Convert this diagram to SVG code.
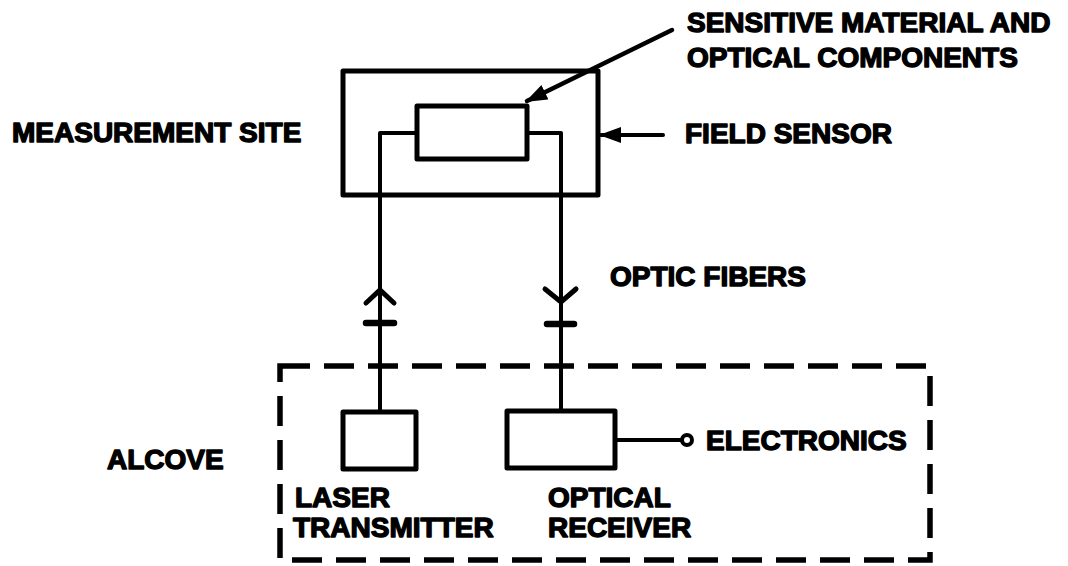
<svg xmlns="http://www.w3.org/2000/svg" width="1068" height="566" viewBox="0 0 1068 566">
<style>
.t{font-family:"Liberation Sans",Arial,sans-serif;font-weight:bold;font-size:28px;fill:#000;stroke:#000;stroke-width:1.4px;stroke-linejoin:round}
.box{fill:none;stroke:#000;stroke-width:5;stroke-linejoin:round}
.ln{fill:none;stroke:#000;stroke-width:4;stroke-linecap:round;stroke-linejoin:round}
.chev{fill:none;stroke:#000;stroke-width:5;stroke-linecap:round;stroke-linejoin:miter}
.tick{fill:none;stroke:#000;stroke-width:6.5;stroke-linecap:round}
.dash{fill:none;stroke:#000;stroke-width:5.5;stroke-dasharray:30 14;stroke-linecap:butt}
</style>
<defs>
<marker id="ah2" markerWidth="22" markerHeight="16" refX="20" refY="8" orient="auto" markerUnits="userSpaceOnUse" viewBox="0 0 22 16">
<path d="M0,0 L22,8 L0,16 Z" fill="#000"/>
</marker>
</defs>
<rect width="1068" height="566" fill="#fff"/>

<g id="field-sensor">
<rect class="box" x="343" y="71" width="255" height="124"/>
<text class="t" x="685" y="143">FIELD SENSOR</text>
</g>
<g id="sensitive-material">
<rect class="box" x="417" y="106" width="110" height="53"/>
<text class="t" x="687" y="32">SENSITIVE MATERIAL AND</text>
<text class="t" x="687" y="67">OPTICAL COMPONENTS</text>
</g>
<g id="measurement-site">
<text class="t" x="12" y="142">MEASUREMENT SITE</text>
</g>
<g id="alcove">
<rect class="dash" x="280" y="366" width="650" height="194"/>
<text class="t" x="107" y="469">ALCOVE</text>
</g>
<g id="laser-transmitter">
<rect class="box" x="343" y="412" width="73" height="57"/>
<text class="t" x="295" y="507">LASER</text>
<text class="t" x="293" y="537">TRANSMITTER</text>
</g>
<g id="optical-receiver">
<rect class="box" x="507" y="411" width="108" height="57"/>
<text class="t" x="548" y="507">OPTICAL</text>
<text class="t" x="548" y="537">RECEIVER</text>
</g>
<g id="electronics">
<circle cx="687" cy="440" r="5" fill="#fff" stroke="#000" stroke-width="4"/>
<text class="t" x="706" y="450">ELECTRONICS</text>
</g>
<g id="optic-fibers-label">
<text class="t" x="610" y="286">OPTIC FIBERS</text>
</g>

<g id="connectors">
<path class="ln" d="M380,412 L380,133 L417,133"/>
<path class="ln" d="M527,133 L561,133 L561,411"/>
<path class="chev" d="M366,303 L380,290 L394,303"/>
<path class="chev" d="M545,289 L561,302 L576,289"/>
<line class="tick" x1="366" y1="323" x2="394" y2="323"/>
<line class="tick" x1="547" y1="324" x2="574" y2="324"/>
<line class="ln" x1="615" y1="440" x2="682" y2="440"/>
<line x1="672" y1="30" x2="527" y2="101" stroke="#000" stroke-width="4.5" stroke-linecap="round" marker-end="url(#ah2)"/>
<line x1="663" y1="135" x2="601" y2="135" stroke="#000" stroke-width="4" stroke-linecap="round" marker-end="url(#ah2)"/>
</g>
</svg>
